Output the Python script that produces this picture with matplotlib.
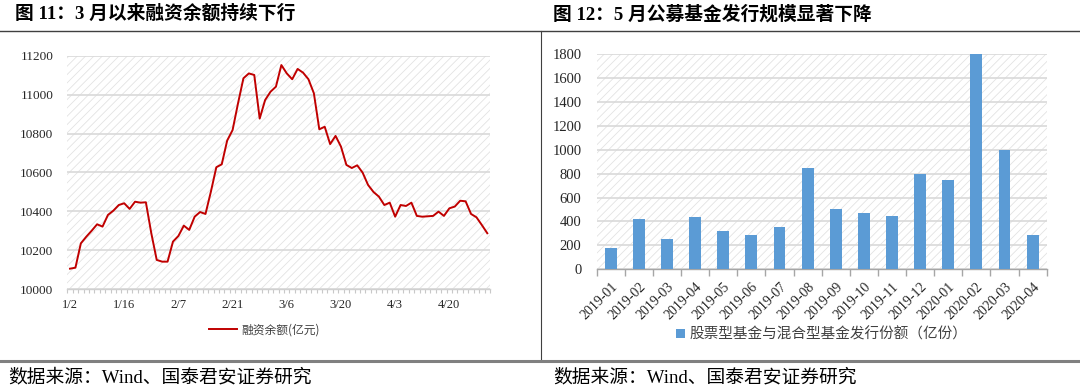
import numpy as np
import matplotlib
matplotlib.use('Agg')
import matplotlib.pyplot as plt
from matplotlib.patches import Rectangle
from matplotlib.lines import Line2D

plt.rcParams['font.family'] = ['Liberation Serif', 'Noto Sans CJK SC', 'DejaVu Sans']
plt.rcParams['hatch.linewidth'] = 0.6

CJK = ['Noto Sans CJK SC', 'DejaVu Sans']
MIX = ['Liberation Serif', 'Noto Sans CJK SC', 'DejaVu Sans']

# ---- 图11: 融资余额（亿元），交易日 2020-01-02 ~ 2020-04-29 ----
margin_balance = [
    10106, 10111, 10236, 10270, 10301, 10334, 10322, 10382, 10404, 10433,
    10442, 10413, 10450, 10445, 10447, 10288, 10151, 10142, 10142, 10245,
    10274, 10327, 10305, 10373, 10397, 10387, 10502, 10627, 10642, 10764,
    10818, 10955, 11084, 11109, 11101, 10877, 10972, 11015, 11041, 11152,
    11109, 11079, 11132, 11113, 11079, 11007, 10822, 10835, 10746, 10788,
    10733, 10639, 10623, 10637, 10599, 10536, 10500, 10476, 10433, 10445,
    10373, 10433, 10428, 10445, 10377, 10373, 10375, 10377, 10399, 10377,
    10416, 10425, 10455, 10452, 10387, 10370, 10330, 10288,
]
date_labels = ['1/2', '1/16', '2/7', '2/21', '3/6', '3/20', '4/3', '4/20']
date_label_pos = [0, 10, 20, 30, 40, 50, 60, 70]

# ---- 图12: 股票型基金与混合型基金发行份额（亿份） ----
months = ['2019-01', '2019-02', '2019-03', '2019-04', '2019-05', '2019-06',
          '2019-07', '2019-08', '2019-09', '2019-10', '2019-11', '2019-12',
          '2020-01', '2020-02', '2020-03', '2020-04']
fund_issue = [180, 420, 250, 440, 322, 287, 350, 850, 505, 470, 445, 800,
              750, 1800, 995, 290]

W, H = 1080, 389
fig = plt.figure(figsize=(W / 100, H / 100), dpi=100)


def px_axes(x0, y0, x1, y1):
    return fig.add_axes([x0 / W, 1 - y1 / H, (x1 - x0) / W, (y1 - y0) / H])


def hatch_bg(ax):
    ax.add_patch(Rectangle((0, 0), 1, 1, transform=ax.transAxes, facecolor='white',
                           edgecolor='#e3e3e3', linewidth=0, hatch='////', zorder=0))


# ========== 左图 ==========
ax1 = px_axes(67.3, 55.7, 490, 289.3)
hatch_bg(ax1)
x = np.arange(len(margin_balance))
ax1.plot(x, margin_balance, color='#c00000', linewidth=1.4, zorder=3,
         label='融资余额(亿元)')
ax1.set_xlim(-0.5, len(margin_balance) - 0.5)
ax1.set_ylim(10000, 11200)
ax1.set_yticks(np.arange(10000, 11201, 200))
ax1.yaxis.grid(True, color='#d9d9d9', linewidth=1.2, zorder=1)
ax1.set_axisbelow(True)
for s in ['left', 'right', 'top']:
    ax1.spines[s].set_visible(False)
ax1.spines['bottom'].set_color('#d0d0d0')
ax1.spines['bottom'].set_linewidth(1.0)
ax1.tick_params(axis='y', length=0, pad=10, labelsize=9.5, labelcolor='#262626')
ax1.set_xticks(date_label_pos)
ax1.set_xticklabels(date_labels)
ax1.tick_params(axis='x', length=0, pad=7, labelsize=9, labelcolor='#262626')
ax1.set_xticks(np.arange(-0.5, len(margin_balance)), minor=True)
ax1.tick_params(axis='x', which='minor', length=3, color='#c8c8c8', width=0.8)
leg1 = ax1.legend(loc='upper center', bbox_to_anchor=(0.466, -0.1), frameon=False,
                  prop={'family': CJK, 'size': 8.5}, handlelength=2.4,
                  handletextpad=0.4)
for t in leg1.get_texts():
    t.set_color('#404040')

# ========== 右图 ==========
ax2 = px_axes(596.7, 54, 1046.7, 269.3)
hatch_bg(ax2)
xb = np.arange(len(months))
ax2.bar(xb, fund_issue, width=0.42, color='#5b9bd5', zorder=3,
        label='股票型基金与混合型基金发行份额（亿份）')
ax2.set_xlim(-0.5, len(months) - 0.5)
ax2.set_ylim(0, 1800)
ax2.set_yticks(np.arange(0, 1801, 200))
ax2.yaxis.grid(True, color='#d9d9d9', linewidth=1.2, zorder=1)
ax2.set_axisbelow(True)
for s in ['left', 'right', 'top']:
    ax2.spines[s].set_visible(False)
ax2.spines['bottom'].set_color('#a6a6a6')
ax2.spines['bottom'].set_linewidth(1.0)
ax2.tick_params(axis='y', length=0, pad=11, labelsize=10.5, labelcolor='#262626')
ax2.set_xticks(xb)
ax2.set_xticklabels(months, rotation=45, ha='right', rotation_mode='anchor')
ax2.tick_params(axis='x', length=0, pad=8, labelsize=10, labelcolor='#262626')
ax2.set_xticks(np.arange(-0.5, len(months)), minor=True)
ax2.tick_params(axis='x', which='minor', length=5, color='#a6a6a6', width=1.0)
leg2 = ax2.legend(loc='upper center', bbox_to_anchor=(0.5, -0.21), frameon=False,
                  prop={'family': CJK, 'size': 10.5}, handlelength=0.6,
                  handleheight=0.6, handletextpad=0.3)
for t in leg2.get_texts():
    t.set_color('#404040')

# ========== 标题・框线・来源 ==========
fig.add_artist(Line2D([0, 1], [1 - 30.5 / H, 1 - 30.5 / H], color='#404040', linewidth=1.0))
fig.add_artist(Line2D([540.5 / W, 540.5 / W], [1 - 30.5 / H, 1 - 359 / H],
                      color='#404040', linewidth=0.8))
fig.add_artist(Line2D([0, 1], [1 - 360.5 / H, 1 - 360.5 / H], color='#808080', linewidth=2.2))

fig.text(15 / W, 1 - 14 / H, '图 11：3 月以来融资余额持续下行', family=MIX,
         fontsize=13.5, fontweight='bold', va='center', ha='left', color='black')
fig.text(553 / W, 1 - 14 / H, '图 12：5 月公募基金发行规模显著下降', family=MIX,
         fontsize=13.5, fontweight='bold', va='center', ha='left', color='black')
fig.text(8 / W, 1 - 378 / H, '数据来源：Wind、国泰君安证券研究', family=MIX,
         fontsize=13.5, va='center', ha='left', color='black')
fig.text(553 / W, 1 - 378 / H, '数据来源：Wind、国泰君安证券研究', family=MIX,
         fontsize=13.5, va='center', ha='left', color='black')

fig.savefig('out.png', dpi=100)
